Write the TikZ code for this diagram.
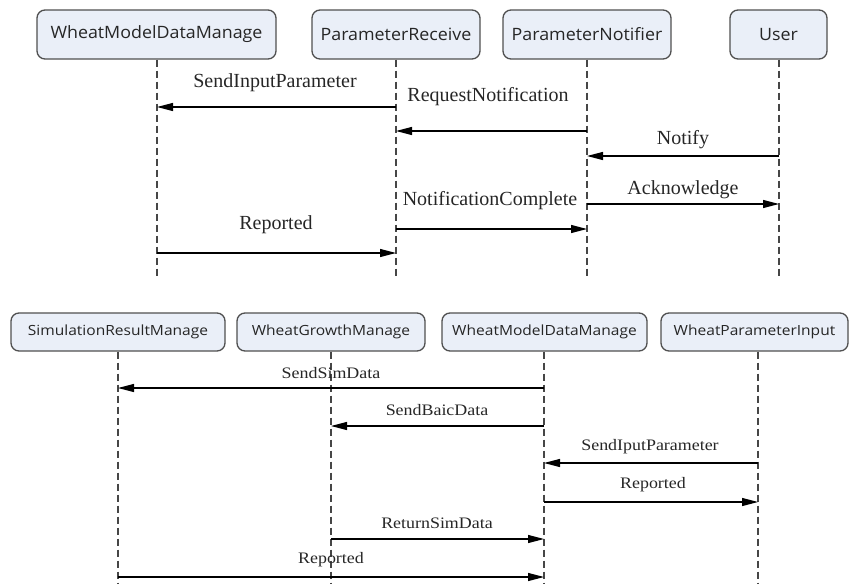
\documentclass[tikz,border=0pt]{standalone}
\usepackage{fontspec}
\setmainfont{Liberation Serif}
\newfontfamily\boxfont[FakeStretch=1.05]{Open Sans}
\newfontfamily\boxfontwide[FakeStretch=1.11]{Open Sans}
\newfontfamily\msgfontwide[FakeStretch=1.12]{Liberation Serif}
\usetikzlibrary{arrows.meta}
\definecolor{boxfill}{RGB}{234,239,248}
\definecolor{boxline}{RGB}{80,80,80}
\definecolor{lifeline}{RGB}{70,70,70}
\tikzset{
  obj/.style={draw=boxline, line width=1.3pt, fill=boxfill, rounded corners=8pt,
    inner sep=0pt, text=black!85},
  topobj/.style={obj, minimum height=49pt, font=\boxfont\fontsize{17}{20}\selectfont},
  botobj/.style={obj, minimum height=38pt, font=\boxfontwide\fontsize{14}{17}\selectfont},
  life/.style={draw=lifeline, line width=1.2pt, dash pattern=on 7pt off 4pt},
  msg/.style={draw=black, line width=1.2pt, -{Triangle[length=16pt,width=8pt]}},
  toplbl/.style={inner sep=0pt, text=black!85, font=\fontsize{20}{22}\selectfont},
  botlbl/.style={inner sep=0pt, text=black!85, font=\msgfontwide\fontsize{16}{18}\selectfont},
}
\begin{document}
\begin{tikzpicture}[x=1pt, y=-1pt]
\useasboundingbox (0,0) rectangle (849,584);

% ---------- upper sequence ----------
\node[topobj, minimum width=239pt] (wmd) at (156.5,34.5) {WheatModelDataManage};
\node[topobj, minimum width=168pt] (rcv) at (396,34.5) {ParameterReceive};
\node[topobj, minimum width=168pt] (ntf) at (587,34.5) {ParameterNotifier};
\node[topobj, minimum width=97pt] (usr) at (778.5,34.5) {User};

\coordinate (wmdEnd) at (157,277);
\coordinate (rcvEnd) at (396,277);
\coordinate (ntfEnd) at (587,277);
\coordinate (usrEnd) at (779,277);
\draw[life] (wmdEnd |- wmd.south) -- (wmdEnd);
\draw[life] (rcv.south) -- (rcvEnd);
\draw[life] (ntf.south) -- (ntfEnd);
\draw[life] (usrEnd |- usr.south) -- (usrEnd);

\draw[msg] (rcvEnd |- 0,107) -- (wmdEnd |- 0,107);
\node[toplbl] (l1) at (275,83) {SendInputParameter};
\draw[msg] (ntfEnd |- 0,131) -- (rcvEnd |- 0,131);
\node[toplbl] (l2) at (488,97) {RequestNotification};
\draw[msg] (usrEnd |- 0,156) -- (ntfEnd |- 0,156);
\node[toplbl] (l3) at (683,140) {Notify};
\draw[msg] (ntfEnd |- 0,204) -- (usrEnd |- 0,204);
\node[toplbl] (l4) at (683,190) {Acknowledge};
\draw[msg] (rcvEnd |- 0,229) -- (ntfEnd |- 0,229);
\node[toplbl] (l5) at (490,201) {NotificationComplete};
\draw[msg] (wmdEnd |- 0,253) -- (rcvEnd |- 0,253);
\node[toplbl] (l6) at (276,225) {Reported};

% ---------- lower sequence ----------
\node[botobj, minimum width=214pt] (srm) at (118,332) {SimulationResultManage};
\node[botobj, minimum width=188pt] (wgm) at (331,332) {WheatGrowthManage};
\node[botobj, minimum width=205pt] (wmd2) at (544.5,332) {WheatModelDataManage};
\node[botobj, minimum width=187pt] (wpi) at (754.5,332) {WheatParameterInput};

\coordinate (srmEnd) at (118,584);
\coordinate (wgmEnd) at (331,584);
\coordinate (wmd2End) at (544,584);
\coordinate (wpiEnd) at (758,584);
\draw[life] (srmEnd |- srm.south) -- (srmEnd);
\draw[life] (wgmEnd |- wgm.south) -- (wgmEnd);
\draw[life] (wmd2End |- wmd2.south) -- (wmd2End);
\draw[life] (wpiEnd |- wpi.south) -- (wpiEnd);

\draw[msg] (wmd2End |- 0,388) -- (srmEnd |- 0,388);
\node[botlbl] (b1) at (331,373) {SendSimData};
\draw[msg] (wmd2End |- 0,426) -- (wgmEnd |- 0,426);
\node[botlbl] (b2) at (437,410) {SendBaicData};
\draw[msg] (wpiEnd |- 0,463) -- (wmd2End |- 0,463);
\node[botlbl] (b3) at (650,447) {SendIputParameter};
\draw[msg] (wmd2End |- 0,502) -- (wpiEnd |- 0,502);
\node[botlbl] (b4) at (653,485) {Reported};
\draw[msg] (wgmEnd |- 0,539) -- (wmd2End |- 0,539);
\node[botlbl] (b5) at (437,523) {ReturnSimData};
\draw[msg] (srmEnd |- 0,577) -- (wmd2End |- 0,577);
\node[botlbl] (b6) at (331,560) {Reported};
\end{tikzpicture}
\end{document}
